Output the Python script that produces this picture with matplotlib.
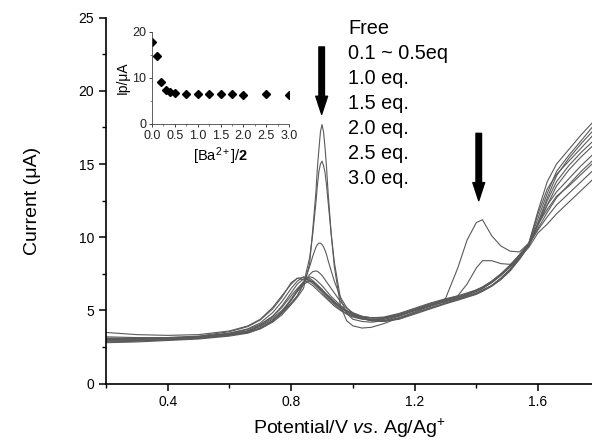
import numpy as np
import matplotlib
matplotlib.use('Agg')
import matplotlib.pyplot as plt
from matplotlib.ticker import MultipleLocator

plt.rcParams['font.family'] = ['Liberation Sans', 'DejaVu Sans']
plt.rcParams['mathtext.fontset'] = 'custom'
plt.rcParams['mathtext.rm'] = 'Liberation Sans'
plt.rcParams['mathtext.it'] = 'Liberation Sans:italic'
plt.rcParams['mathtext.bf'] = 'Liberation Sans:bold'

# potential grid (V vs Ag/Ag+) shared by all the voltammograms
potential = [0.20, 0.30, 0.40, 0.50, 0.60, 0.66, 0.70, 0.74, 0.77, 0.80,
             0.82, 0.84, 0.86, 0.87, 0.88, 0.885, 0.89, 0.895, 0.90, 0.905,
             0.91, 0.915, 0.92, 0.93, 0.94, 0.96, 0.98, 1.00, 1.03, 1.06,
             1.10, 1.15, 1.20, 1.25, 1.30, 1.34, 1.37, 1.40, 1.42, 1.45,
             1.48, 1.51, 1.54, 1.57, 1.60, 1.63, 1.66, 1.70, 1.74, 1.775]

# current (uA)
cur_free = [2.95, 2.98, 3.05, 3.12, 3.3, 3.5, 3.75, 4.2, 4.7, 5.4,
            5.9, 6.5, 8.2, 10.5, 13.0, 14.7, 16.0, 17.2, 17.7, 17.2,
            16.1, 14.7, 13.0, 10.2, 8.0, 5.3, 4.3, 3.95, 3.8, 3.85,
            4.1, 4.5, 4.9, 5.3, 5.8, 7.9, 9.8, 11.0, 11.2, 10.1,
            9.4, 9.05, 9.0, 9.6, 10.9, 12.5, 13.8, 14.9, 15.8, 16.5]
cur_01 = [3.0, 3.0, 3.08, 3.15, 3.35, 3.55, 3.8, 4.3, 4.8, 5.5,
          6.0, 6.8, 8.6, 10.2, 12.3, 13.5, 14.5, 15.0, 15.2, 14.9,
          14.4, 13.5, 12.4, 10.2, 8.3, 5.8, 4.8, 4.4, 4.25, 4.2,
          4.3, 4.6, 5.0, 5.35, 5.7, 6.0, 6.8, 7.9, 8.4, 8.4,
          8.2, 8.15, 8.6, 9.5, 11.0, 12.7, 14.2, 15.4, 16.4, 17.2]
cur_02 = [3.1, 3.1, 3.15, 3.2, 3.4, 3.6, 3.9, 4.4, 4.9, 5.5,
          6.0, 6.8, 8.0, 8.7, 9.3, 9.5, 9.6, 9.6, 9.5, 9.35,
          9.1, 8.8, 8.4, 7.7, 7.0, 5.9, 5.2, 4.8, 4.5, 4.4,
          4.4, 4.65, 5.0, 5.3, 5.6, 5.8, 6.0, 6.2, 6.4, 6.7,
          7.2, 7.8, 8.5, 9.4, 10.8, 12.2, 13.5, 14.6, 15.5, 16.2]
cur_03 = [3.0, 3.05, 3.1, 3.2, 3.4, 3.6, 3.95, 4.5, 5.0, 5.7,
          6.3, 6.9, 7.45, 7.65, 7.7, 7.68, 7.6, 7.5, 7.4, 7.25,
          7.1, 6.95, 6.8, 6.5, 6.2, 5.6, 5.15, 4.85, 4.6, 4.5,
          4.5, 4.7, 5.05, 5.4, 5.7, 5.9, 6.1, 6.3, 6.5, 6.9,
          7.4, 8.0, 8.7, 9.5, 10.6, 11.7, 12.7, 13.6, 14.5, 15.2]
cur_04 = [2.9, 2.95, 3.0, 3.1, 3.3, 3.5, 3.8, 4.3, 4.9, 5.8,
          6.4, 6.95, 7.3, 7.25, 7.1, 7.0, 6.9, 6.8, 6.7, 6.58,
          6.45, 6.32, 6.2, 5.95, 5.75, 5.35, 5.0, 4.75, 4.5, 4.35,
          4.3, 4.5, 4.85, 5.2, 5.5, 5.75, 5.95, 6.15, 6.35, 6.7,
          7.2, 7.8, 8.6, 9.5, 11.3, 13.0, 14.5, 15.6, 16.6, 17.5]
cur_05 = [2.85, 2.9, 3.0, 3.1, 3.35, 3.6, 4.0, 4.6, 5.3, 6.2,
          6.8, 7.15, 7.1, 6.95, 6.75, 6.65, 6.55, 6.42, 6.3, 6.2,
          6.1, 6.0, 5.9, 5.7, 5.5, 5.15, 4.9, 4.65, 4.45, 4.3,
          4.25, 4.4, 4.75, 5.1, 5.45, 5.7, 5.9, 6.1, 6.3, 6.65,
          7.1, 7.7, 8.5, 9.4, 10.9, 12.2, 13.1, 14.0, 14.9, 15.6]
cur_10 = [3.5, 3.35, 3.3, 3.35, 3.6, 3.95, 4.4, 5.2, 6.0, 6.8,
          7.2, 7.25, 7.0, 6.85, 6.65, 6.55, 6.45, 6.35, 6.25, 6.12,
          6.0, 5.9, 5.8, 5.6, 5.4, 5.05, 4.8, 4.6, 4.45, 4.4,
          4.45, 4.7, 5.0, 5.3, 5.6, 5.85, 6.05, 6.3, 6.5, 6.9,
          7.4, 8.0, 8.7, 9.3, 10.3, 10.9, 11.6, 12.4, 13.2, 13.9]
cur_15 = [3.05, 3.05, 3.1, 3.2, 3.45, 3.7, 4.05, 4.6, 5.2, 6.0,
          6.5, 6.95, 7.05, 6.95, 6.8, 6.7, 6.6, 6.5, 6.4, 6.3,
          6.2, 6.07, 5.95, 5.75, 5.55, 5.2, 4.95, 4.75, 4.55, 4.5,
          4.55, 4.8, 5.15, 5.5, 5.8, 6.0, 6.2, 6.4, 6.6, 7.0,
          7.5, 8.1, 8.8, 9.5, 10.5, 11.4, 12.2, 13.0, 13.8, 14.5]
cur_20 = [3.2, 3.15, 3.15, 3.25, 3.55, 3.9, 4.35, 5.1, 5.9, 6.9,
          7.2, 7.1, 6.85, 6.7, 6.5, 6.4, 6.3, 6.2, 6.1, 6.0,
          5.9, 5.8, 5.7, 5.5, 5.3, 5.0, 4.75, 4.55, 4.4, 4.35,
          4.4, 4.65, 5.0, 5.35, 5.65, 5.9, 6.1, 6.35, 6.55, 6.95,
          7.45, 8.05, 8.8, 9.6, 11.6, 13.3, 14.3, 15.2, 16.1, 16.9]
cur_25 = [2.8, 2.85, 2.95, 3.05, 3.25, 3.45, 3.75, 4.25, 4.85, 5.7,
          6.3, 6.8, 7.0, 6.95, 6.8, 6.7, 6.6, 6.5, 6.4, 6.3,
          6.2, 6.1, 6.0, 5.8, 5.6, 5.25, 4.95, 4.7, 4.45, 4.3,
          4.25, 4.45, 4.8, 5.15, 5.5, 5.75, 5.95, 6.15, 6.35, 6.7,
          7.2, 7.85, 8.65, 9.55, 11.8, 13.8, 15.0, 16.0, 17.0, 17.8]
cur_30 = [3.1, 3.1, 3.1, 3.2, 3.45, 3.75, 4.15, 4.85, 5.6, 6.5,
          7.0, 7.3, 7.2, 7.05, 6.85, 6.75, 6.65, 6.55, 6.45, 6.32,
          6.2, 6.1, 6.0, 5.8, 5.6, 5.25, 5.0, 4.8, 4.6, 4.5,
          4.5, 4.75, 5.1, 5.45, 5.75, 5.95, 6.15, 6.4, 6.6, 7.0,
          7.5, 8.1, 8.8, 9.5, 10.9, 11.9, 12.8, 13.5, 14.3, 15.0]

curves = [cur_free, cur_01, cur_02, cur_03, cur_04, cur_05,
          cur_10, cur_15, cur_20, cur_25, cur_30]

legend_lines = ['Free', '0.1 ~ 0.5eq', '1.0 eq.', '1.5 eq.', '2.0 eq.', '2.5 eq.', '3.0 eq.']

# inset: peak current vs equivalents of Ba2+
eq_ba = [0.0, 0.1, 0.2, 0.3, 0.4, 0.5, 0.75, 1.0, 1.25, 1.5, 1.75, 2.0, 2.5, 3.0]
ip = [17.7, 14.8, 9.2, 7.3, 6.9, 6.7, 6.6, 6.6, 6.6, 6.6, 6.4, 6.3, 6.5, 6.3]

fig = plt.figure(figsize=(5.92, 4.45), dpi=100)
ax = fig.add_axes([0.179, 0.1378, 0.821, 0.8225])

for c in curves:
    ax.plot(potential, c, color='#5a5a5a', lw=0.8)

ax.set_xlim(0.2, 1.775)
ax.set_ylim(0, 25)
ax.xaxis.set_major_locator(MultipleLocator(0.4))
ax.xaxis.set_minor_locator(MultipleLocator(0.2))
ax.yaxis.set_major_locator(MultipleLocator(5))
ax.yaxis.set_minor_locator(MultipleLocator(2.5))
ax.spines['top'].set_visible(False)
ax.spines['right'].set_visible(False)
for s in ['left', 'bottom']:
    ax.spines[s].set_linewidth(1.2)
ax.tick_params(which='major', direction='out', length=5, width=1.1, labelsize=10)
ax.tick_params(which='minor', direction='out', length=3, width=1.0)
ax.set_xlabel(r'Potential/V $\mathit{vs}$. Ag/Ag$^{+}$', fontsize=14, labelpad=5)
ax.set_ylabel('Current (\u03bcA)', fontsize=14, labelpad=27)

# arrows pointing at the decreasing peaks
ax.annotate('', xy=(0.899, 18.4), xytext=(0.899, 23.0),
            arrowprops=dict(width=4, headwidth=8.5, headlength=13, color='black', shrink=0))
ax.annotate('', xy=(1.408, 12.5), xytext=(1.408, 17.1),
            arrowprops=dict(width=4, headwidth=8.5, headlength=13, color='black', shrink=0))

fig.text(348 / 592, 1 - 19 / 445, '\n'.join(legend_lines), fontsize=14.3,
         va='top', ha='left', linespacing=1.4)

# inset plot
axi = fig.add_axes([152 / 592, 1 - 124 / 445, 137 / 592, 92.3 / 445])
axi.plot(eq_ba, ip, 'D', color='black', markersize=3.6)
axi.set_xlim(0, 3.0)
axi.set_ylim(0, 20)
axi.xaxis.set_major_locator(MultipleLocator(0.5))
axi.xaxis.set_minor_locator(MultipleLocator(0.25))
axi.yaxis.set_major_locator(MultipleLocator(10))
axi.yaxis.set_minor_locator(MultipleLocator(5))
axi.spines['top'].set_visible(False)
axi.spines['right'].set_visible(False)
for s in ['left', 'bottom']:
    axi.spines[s].set_linewidth(0.6)
    axi.spines[s].set_color('#444444')
axi.patch.set_alpha(0)
axi.tick_params(which='major', length=2.5, width=0.6, labelsize=9, pad=1.5, colors='#222222')
axi.tick_params(which='minor', length=1.5, width=0.5, colors='#444444')
axi.set_ylabel('Ip/\u03bcA', fontsize=10, labelpad=2)
axi.set_xlabel(r'[Ba$^{2+}$]/$\mathbf{2}$', fontsize=10.5, labelpad=3)

fig.savefig('out.png', dpi=100)
